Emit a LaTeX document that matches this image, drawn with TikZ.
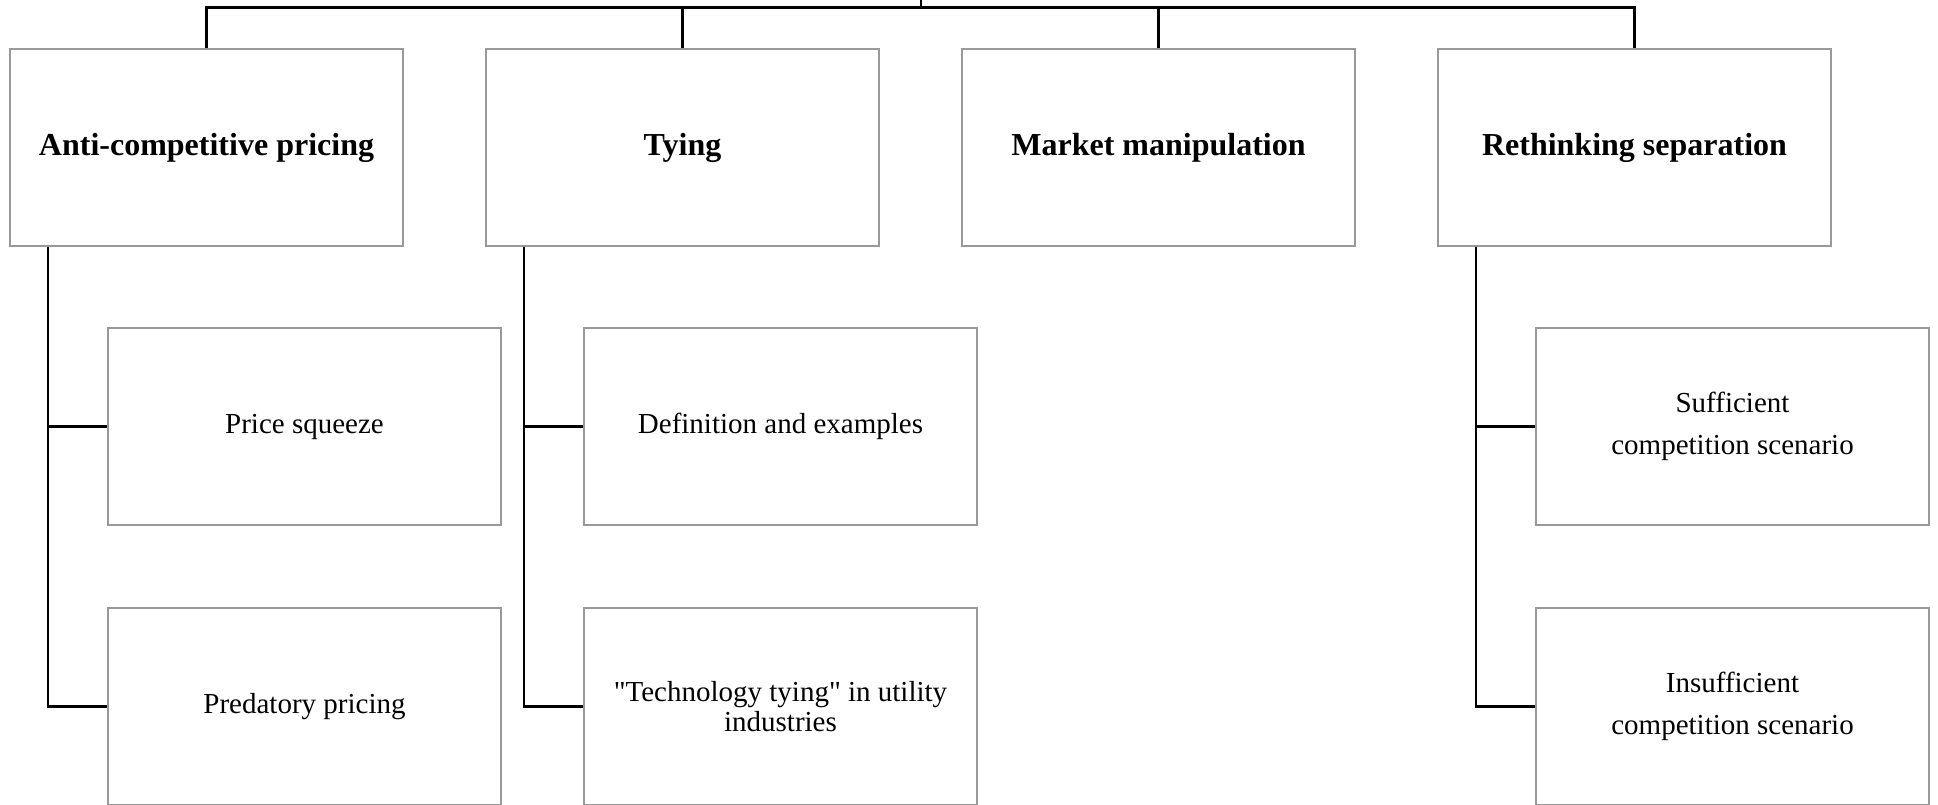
\documentclass[tikz,border=0pt]{standalone}
\usepackage{fontspec}
\setmainfont{Liberation Serif}

\begin{document}
\begin{tikzpicture}[x=1pt, y=-1pt,
    box/.style={draw=black!40, line width=1.3pt, minimum width=393pt, minimum height=197pt, align=center, inner sep=4pt},
    head/.style={box, font=\bfseries\fontsize{32}{38}\selectfont},
    item/.style={box, font=\fontsize{29}{42}\selectfont},
    link/.style={line width=2.2pt}]
    \path[use as bounding box, clip] (0, 0) rectangle (1938, 804);

    \node[head] at (206.5, 147.5) (p1) {Anti-competitive pricing};
    \node[head] at (682.5, 147.5) (p2) {Tying};
    \node[head] at (1158.5, 147.5) (p3) {Market manipulation};
    \node[head] at (1634.5, 147.5) (p4) {Rethinking separation};

    \node[item] at (304.5, 426.5) (c1) {Price squeeze};
    \node[item] at (304.5, 706.5) (c2) {Predatory pricing};
    \node[item] at (780.5, 426.5) (c3) {Definition and examples};
    \node[item, font=\fontsize{29}{30}\selectfont] at (780.5, 706.5) (c4) {\textquotedbl Technology tying\textquotedbl{} in utility\\industries};
    \node[item] at (1732.5, 426.5) (c5) {Sufficient\\competition scenario};
    \node[item] at (1732.5, 706.5) (c6) {Insufficient\\competition scenario};

    \coordinate (root) at (921, 0);
    \coordinate (bar) at (921, 7.5);

    \draw[link] (root) -- (bar);
    \draw[link] (p1.north) |- (bar) -| (p4.north);
    \draw[link] (p2.north) -- (p2.north |- bar);
    \draw[link] (p3.north) -- (p3.north |- bar);

    \draw[link] ([xshift=39pt]p1.south west) |- (c1.west);
    \draw[link] ([xshift=39pt]p1.south west) |- (c2.west);
    \draw[link] ([xshift=39pt]p2.south west) |- (c3.west);
    \draw[link] ([xshift=39pt]p2.south west) |- (c4.west);
    \draw[link] ([xshift=39pt]p4.south west) |- (c5.west);
    \draw[link] ([xshift=39pt]p4.south west) |- (c6.west);
\end{tikzpicture}
\end{document}
